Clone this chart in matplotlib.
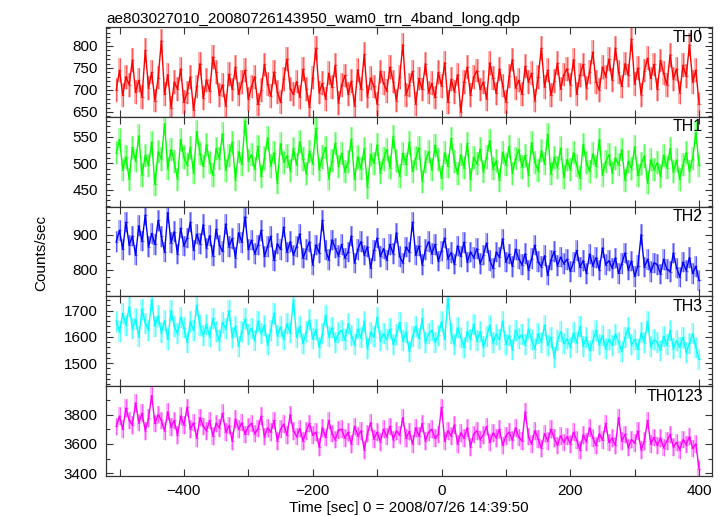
import numpy as np
import matplotlib.pyplot as plt
from matplotlib.ticker import MultipleLocator

plt.rcParams['font.family'] = ['Liberation Sans', 'DejaVu Sans']

# light curves, one value every 5 s from -505 s
t_start = -505
t_bin = 5

th0 = [700, 745, 688, 730, 712, 768, 695, 722, 684, 790, 705, 740, 676, 728,
       812, 690, 735, 660, 718, 702, 748, 672, 694, 730, 655, 708, 760, 681,
       723, 697, 775, 740, 688, 712, 664, 736, 701, 752, 690, 718, 745, 679,
       708, 730, 667, 699, 758, 713, 686, 741, 696, 672, 725, 770, 703, 690,
       719, 684, 747, 702, 661, 728, 795, 694, 715, 680, 738, 706, 756, 671,
       711, 733, 690, 720, 664, 746, 702, 781, 685, 727, 708, 668, 742, 715,
       698, 752, 719, 676, 730, 803, 689, 712, 742, 668, 726, 701, 760, 694,
       715, 683, 740, 709, 762, 672, 724, 696, 735, 650, 718, 752, 688, 729,
       744, 701, 718, 680, 762, 727, 692, 748, 710, 673, 731, 769, 705, 722,
       690, 754, 718, 738, 676, 729, 795, 707, 745, 688, 720, 761, 702, 735,
       748, 712, 769, 690, 734, 758, 705, 741, 786, 718, 700, 752, 730, 770,
       722, 795, 741, 708, 760, 733, 816, 714, 750, 689, 744, 772, 726, 758,
       701, 767, 738, 712, 780, 725, 748, 694, 756, 731, 803, 718, 745, 668]

th1 = [520, 545, 488, 512, 470, 530, 505, 552, 478, 515, 496, 540, 460, 522,
       508, 575, 490, 526, 503, 470, 545, 512, 497, 530, 482, 560, 518, 494,
       535, 501, 478, 528, 509, 556, 487, 515, 540, 469, 522, 498, 580, 505,
       516, 489, 532, 475, 510, 548, 495, 520, 463, 537, 502, 514, 486, 528,
       497, 541, 508, 480, 523, 499, 566, 488, 512, 530, 471, 505, 538, 494,
       519, 484, 503, 546, 470, 512, 490, 528, 455, 517, 500, 535, 482, 508,
       526, 492, 551, 505, 476, 519, 498, 540, 485, 510, 529, 466, 503, 522,
       488, 534, 507, 472, 520, 495, 547, 503, 480, 516, 492, 538, 470, 511,
       499, 527, 484, 512, 543, 490, 505, 468, 521, 497, 532, 481, 509, 526,
       493, 515, 478, 539, 502, 486, 524, 499, 555, 480, 511, 492, 529, 474,
       507, 488, 520, 496, 472, 536, 501, 485, 518, 494, 545, 478, 503, 516,
       482, 510, 497, 526, 468, 504, 490, 531, 477, 499, 514, 463, 507, 488,
       501, 476, 515, 492, 528, 484, 506, 470, 497, 520, 485, 509, 558, 496]

th2 = [880, 912, 858, 935, 870, 896, 842, 925, 881, 955, 866, 903, 872, 940,
       895, 850, 962, 877, 908, 845, 918, 868, 890, 935, 856, 901, 874, 928,
       862, 897, 840, 915, 871, 852, 930, 866, 889, 835, 905, 878, 950, 858,
       884, 846, 870, 912, 838, 866, 895, 827, 874, 858, 921, 850, 880, 842,
       866, 902, 833, 858, 880, 815, 871, 848, 940, 856, 829, 885, 862, 840,
       872, 834, 851, 896, 820, 858, 880, 842, 866, 806, 855, 890, 838, 860,
       828, 872, 846, 905, 838, 820, 865, 850, 935, 842, 868, 815, 857, 880,
       846, 872, 825, 854, 890, 832, 849, 816, 868, 838, 878, 822, 851, 835,
       860, 818, 842, 876, 827, 805, 850, 836, 888, 822, 845, 810, 858, 831,
       815, 846, 800, 832, 870, 823, 809, 840, 785, 828, 852, 812, 836, 818,
       830, 796, 822, 855, 808, 826, 790, 845, 812, 835, 800, 862, 815, 826,
       805, 834, 790, 818, 848, 800, 825, 782, 812, 900, 808, 830, 795, 820,
       815, 788, 830, 802, 795, 848, 806, 780, 822, 798, 835, 790, 810, 770]

th3 = [1660, 1620, 1690, 1645, 1715, 1630, 1668, 1600, 1705, 1652, 1625, 1740, 1640, 1680,
       1615, 1662, 1590, 1700, 1640, 1612, 1675, 1635, 1580, 1658, 1625, 1720, 1642, 1605,
       1648, 1600, 1670, 1622, 1585, 1655, 1630, 1700, 1598, 1640, 1565, 1620, 1668, 1610,
       1632, 1585, 1660, 1612, 1645, 1570, 1625, 1690, 1604, 1638, 1590, 1650, 1615, 1740,
       1598, 1640, 1575, 1620, 1665, 1592, 1628, 1560, 1612, 1682, 1600, 1635, 1580, 1615,
       1625, 1588, 1650, 1604, 1570, 1630, 1596, 1660, 1555, 1618, 1600, 1675, 1585, 1612,
       1590, 1630, 1572, 1608, 1655, 1585, 1618, 1545, 1600, 1640, 1595, 1670, 1578, 1612,
       1625, 1580, 1606, 1658, 1590, 1745, 1612, 1570, 1635, 1598, 1560, 1622, 1590, 1648,
       1585, 1620, 1562, 1600, 1645, 1578, 1610, 1590, 1660, 1572, 1605, 1550, 1625, 1595,
       1608, 1570, 1630, 1588, 1555, 1612, 1580, 1645, 1568, 1598, 1520, 1585, 1620, 1575,
       1592, 1560, 1615, 1578, 1640, 1565, 1598, 1548, 1585, 1625, 1570, 1605, 1555, 1590,
       1568, 1610, 1580, 1545, 1598, 1635, 1570, 1590, 1552, 1615, 1578, 1660, 1562, 1588,
       1580, 1548, 1602, 1570, 1625, 1555, 1585, 1560, 1598, 1540, 1575, 1612, 1560, 1515]

th0123 = [3720, 3790, 3700, 3845, 3760, 3730, 3880, 3745, 3810, 3690, 3775, 3930, 3740, 3800,
          3760, 3690, 3820, 3715, 3760, 3660, 3790, 3730, 3850, 3700, 3745, 3640, 3780, 3720,
          3690, 3760, 3655, 3740, 3710, 3810, 3680, 3725, 3620, 3770, 3700, 3745, 3665, 3720,
          3740, 3670, 3705, 3790, 3650, 3710, 3680, 3760, 3620, 3700, 3735, 3660, 3800, 3690,
          3650, 3705, 3620, 3690, 3740, 3660, 3680, 3580, 3710, 3645, 3760, 3670, 3630, 3695,
          3700, 3640, 3680, 3600, 3720, 3655, 3690, 3560, 3670, 3745, 3635, 3680, 3615, 3700,
          3650, 3720, 3630, 3690, 3660, 3780, 3640, 3685, 3600, 3710, 3655, 3740, 3620, 3680,
          3700, 3640, 3665, 3850, 3620, 3690, 3655, 3730, 3600, 3675, 3640, 3710, 3580, 3665,
          3690, 3630, 3660, 3720, 3610, 3675, 3640, 3700, 3590, 3655, 3680, 3625, 3710, 3645,
          3620, 3820, 3650, 3600, 3690, 3635, 3570, 3670, 3620, 3700, 3640, 3590, 3655, 3610,
          3650, 3600, 3680, 3625, 3560, 3660, 3615, 3710, 3640, 3590, 3670, 3625, 3740, 3610,
          3640, 3590, 3780, 3620, 3665, 3575, 3630, 3605, 3690, 3560, 3620, 3760, 3600, 3645,
          3590, 3640, 3575, 3620, 3665, 3580, 3610, 3560, 3630, 3595, 3650, 3570, 3600, 3430]

# 1-sigma error bars (counts/sec)
err = {'TH0': 27, 'TH1': 22, 'TH2': 29, 'TH3': 40, 'TH0123': 60}

panels = [('TH0', th0, 'red', (639, 843), 50, 10),
          ('TH1', th1, '#00ff00', (418, 588), 50, 10),
          ('TH2', th2, 'blue', (725, 979), 100, 20),
          ('TH3', th3, 'cyan', (1412, 1754), 100, 20),
          ('TH0123', th0123, 'magenta', (3381, 3994), 200, 100)]

fig = plt.figure(figsize=(7.24, 5.16), dpi=100)
gs = fig.add_gridspec(5, 1, left=0.1464, right=0.9834, top=0.9477,
                      bottom=0.0775, hspace=0)

for i, (name, vals, col, ylim, major, minor) in enumerate(panels):
    ax = fig.add_subplot(gs[i])
    t = t_start + t_bin * np.arange(len(vals))
    v = np.array(vals, dtype=float)
    # error band from the error bars, drawn light like qdp does
    ax.fill_between(t, v - err[name], v + err[name], color=col, alpha=0.3,
                    lw=0, step='mid')
    ax.errorbar(t, v, yerr=err[name], xerr=t_bin / 2, fmt='none', ecolor=col,
                elinewidth=0.9, alpha=0.5)
    ax.plot(t, v, color=col, lw=1.0)
    ax.set_xlim(-521, 420)
    ax.set_ylim(*ylim)
    ax.xaxis.set_major_locator(MultipleLocator(200))
    ax.xaxis.set_minor_locator(MultipleLocator(100))
    ax.yaxis.set_major_locator(MultipleLocator(major))
    ax.yaxis.set_minor_locator(MultipleLocator(minor))
    ax.tick_params(which='both', direction='in', top=True, right=True,
                   labelsize=11, pad=6, color='#333333')
    ax.tick_params(which='major', length=5, width=0.8)
    ax.tick_params(which='minor', length=3, width=0.8)
    ax.tick_params(axis='x', which='minor', length=5)
    for s in ax.spines.values():
        s.set_color('#333333')
        s.set_linewidth(0.9)
    if i < 4:
        ax.tick_params(labelbottom=False)
    ax.text(0.985, 0.97, name, transform=ax.transAxes, ha='right', va='top',
            fontsize=11.5)
    if i == 0:
        ax.set_title('ae803027010_20080726143950_wam0_trn_4band_long.qdp',
                     loc='left', fontsize=11, pad=3)
    if i == 4:
        ax.set_xlabel('Time [sec] 0 = 2008/07/26 14:39:50', fontsize=11,
                      labelpad=2)

fig.text(0.057, 0.51, 'Counts/sec', rotation=90, ha='center', va='center',
         fontsize=11)

fig.savefig('out.png', dpi=100)
